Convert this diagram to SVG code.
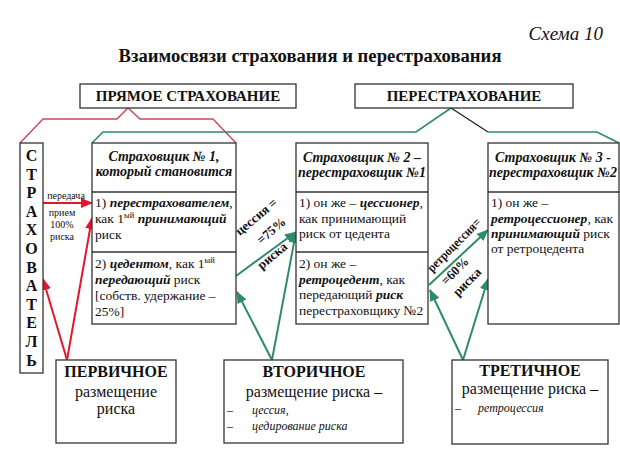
<svg xmlns="http://www.w3.org/2000/svg" width="620" height="450" viewBox="0 0 620 450" font-family="'Liberation Serif', 'DejaVu Serif', 'Times New Roman', serif">
<defs>
<style>
.box{fill:#fff;stroke:#333;stroke-width:1.3}
text{font-family:"Liberation Serif","DejaVu Serif","Times New Roman",serif;fill:#111}
.b{font-weight:bold}
.i{font-style:italic}
.bi{font-weight:bold;font-style:italic}
.c{text-anchor:middle}
.hd{font-size:14px;font-weight:bold;font-style:italic;text-anchor:middle}
.tx{font-size:13.5px}
.sup{font-size:8.5px}
.big{font-size:16px}
.sm{font-size:12px;font-style:italic}
.tiny{font-size:10px;text-anchor:middle}
.rl{font-size:13px;font-weight:bold;text-anchor:middle}
.red{stroke:#e2172d;stroke-width:2;fill:none}
.grn{stroke:#2e8a6c;stroke-width:2;fill:none}
.bred{stroke:#c8485a;stroke-width:1.4;fill:none}
.bgrn{stroke:#2e8a6c;stroke-width:1.6;fill:none}
</style>
<marker id="ar" markerUnits="userSpaceOnUse" markerWidth="12" markerHeight="10" refX="11" refY="5" orient="auto">
<path d="M0,0 L12,5 L0,10 Z" fill="#e2172d"/>
</marker>
<marker id="ag" markerUnits="userSpaceOnUse" markerWidth="12" markerHeight="10" refX="11" refY="5" orient="auto">
<path d="M0,0 L12,5 L0,10 Z" fill="#2e8a6c"/>
</marker>
</defs>
<rect width="620" height="450" fill="#fff"/>

<text x="603" y="40" class="i" font-size="19" text-anchor="end">Схема 10</text>
<text x="310" y="62" class="b c" font-size="18" textLength="383" lengthAdjust="spacingAndGlyphs">Взаимосвязи страхования и перестрахования</text>

<g id="connectors">
<polyline class="bred" points="20,143 43,119 117,119 128,108 140,119 213,119 236,143"/>
<polyline class="bgrn" points="92,143 103,132 416,132 451,108"/>
<line x1="451" y1="108" x2="488" y2="132" stroke="#222" stroke-width="1.3"/>
<polyline class="bgrn" points="488,132 597,132 619,143"/>
<line class="red" x1="43" y1="203" x2="92" y2="203" marker-end="url(#ar)"/>
<line class="red" x1="67" y1="360" x2="43" y2="279" marker-end="url(#ar)"/>
<line class="red" x1="67" y1="360" x2="92" y2="218" marker-end="url(#ar)"/>
<line class="grn" x1="236" y1="276" x2="296" y2="232" marker-end="url(#ag)"/>
<line class="grn" x1="272" y1="360" x2="237" y2="292" marker-end="url(#ag)"/>
<line class="grn" x1="272" y1="360" x2="296" y2="232" marker-end="url(#ag)"/>
<line class="grn" x1="429" y1="285" x2="488" y2="230" marker-end="url(#ag)"/>
<line class="grn" x1="463" y1="360" x2="430" y2="290" marker-end="url(#ag)"/>
<line class="grn" x1="463" y1="360" x2="488" y2="279" marker-end="url(#ag)"/>
<text class="tiny" x="66" y="199">передача</text>
<text class="tiny" x="62" y="216">прием</text>
<text class="tiny" x="62" y="228">100%</text>
<text class="tiny" x="62" y="240">риска</text>
<text class="rl" transform="translate(259,220) rotate(-40)">цессия =</text>
<text class="rl" transform="translate(274,234) rotate(-40)">=75%</text>
<text class="rl" transform="translate(275,259) rotate(-40)">риска</text>
<text class="rl" transform="translate(457,248) rotate(-45)" textLength="70" lengthAdjust="spacingAndGlyphs">ретроцессия=</text>
<text class="rl" transform="translate(458,274) rotate(-45)">=60%</text>
<text class="rl" transform="translate(470,285) rotate(-45)" font-size="12">риска</text>
</g>

<g id="direct">
<rect class="box" x="80" y="84" width="216" height="24"/>
<text class="b c" font-size="15" x="188" y="101">ПРЯМОЕ СТРАХОВАНИЕ</text>
</g>
<g id="reins">
<rect class="box" x="355" y="84" width="218" height="24"/>
<text class="b c" font-size="15" x="464" y="101">ПЕРЕСТРАХОВАНИЕ</text>
</g>

<g id="insured">
<rect class="box" x="20" y="143" width="23" height="230"/>
<text class="b c big" x="31.5" y="161">С</text>
<text class="b c big" x="31.5" y="179.6">Т</text>
<text class="b c big" x="31.5" y="198.2">Р</text>
<text class="b c big" x="31.5" y="216.8">А</text>
<text class="b c big" x="31.5" y="235.4">Х</text>
<text class="b c big" x="31.5" y="254">О</text>
<text class="b c big" x="31.5" y="272.6">В</text>
<text class="b c big" x="31.5" y="291.2">А</text>
<text class="b c big" x="31.5" y="309.8">Т</text>
<text class="b c big" x="31.5" y="328.4">Е</text>
<text class="b c big" x="31.5" y="347">Л</text>
<text class="b c big" x="31.5" y="365.6">Ь</text>
</g>

<g id="insurer1">
<rect class="box" x="92" y="143" width="144" height="181"/>
<line x1="92" y1="192" x2="236" y2="192" stroke="#333" stroke-width="1.3"/>
<line x1="92" y1="252" x2="236" y2="252" stroke="#333" stroke-width="1.3"/>
<text class="hd" x="164" y="161">Страховщик № 1,</text>
<text class="hd" x="164" y="176">который становится</text>
<text class="tx" x="95" y="207">1) <tspan class="bi">перестрахователем</tspan>,</text>
<text class="tx" x="95" y="223">как 1<tspan class="sup" dy="-5">ый</tspan><tspan dy="5"> </tspan><tspan class="bi">принимающий</tspan></text>
<text class="tx" x="95" y="239">риск</text>
<text class="tx" x="95" y="268">2) <tspan class="bi">цедентом</tspan>, как 1<tspan class="sup" dy="-5">ый</tspan></text>
<text class="tx" x="95" y="284"><tspan class="bi">передающий</tspan> риск</text>
<text class="tx" x="95" y="300">[собств. удержание –</text>
<text class="tx" x="95" y="316">25%]</text>
</g>

<g id="insurer2">
<rect class="box" x="296" y="143" width="132" height="181"/>
<line x1="296" y1="192" x2="428" y2="192" stroke="#333" stroke-width="1.3"/>
<line x1="296" y1="252" x2="428" y2="252" stroke="#333" stroke-width="1.3"/>
<text class="hd" x="362" y="162">Страховщик № 2 –</text>
<text class="hd" x="362" y="177">перестраховщик №1</text>
<text class="tx" x="299" y="207">1) он же – <tspan class="bi">цессионер</tspan>,</text>
<text class="tx" x="299" y="223">как принимающий</text>
<text class="tx" x="299" y="238">риск от цедента</text>
<text class="tx" x="299" y="268">2) он же –</text>
<text class="tx" x="299" y="284"><tspan class="bi">ретроцедент</tspan>, как</text>
<text class="tx" x="299" y="299">передающий <tspan class="bi">риск</tspan></text>
<text class="tx" x="299" y="315">перестраховщику №2</text>
</g>

<g id="insurer3">
<rect class="box" x="488" y="143" width="131" height="181"/>
<line x1="488" y1="192" x2="619" y2="192" stroke="#333" stroke-width="1.3"/>
<text class="hd" x="553" y="162">Страховщик № 3 -</text>
<text class="hd" x="553" y="177">перестраховщик №2</text>
<text class="tx" x="491" y="207">1) он же –</text>
<text class="tx" x="491" y="223"><tspan class="bi">ретроцессионер</tspan>, как</text>
<text class="tx" x="491" y="238"><tspan class="bi">принимающий</tspan>  риск</text>
<text class="tx" x="491" y="253">от ретроцедента</text>
</g>

<g id="primary">
<rect class="box" x="56" y="360" width="120" height="83"/>
<text class="b c big" x="116" y="377">ПЕРВИЧНОЕ</text>
<text class="c big" x="116" y="397">размещение</text>
<text class="c big" x="116" y="414">риска</text>
</g>

<g id="secondary">
<rect class="box" x="224" y="360" width="179" height="83"/>
<text class="b c big" x="314" y="377">ВТОРИЧНОЕ</text>
<text class="c big" x="314" y="397">размещение риска –</text>
<text font-size="12" x="227" y="414">–</text>
<text class="sm" x="252" y="414">цессия,</text>
<text font-size="12" x="227" y="430">–</text>
<text class="sm" x="252" y="430">цедирование риска</text>
</g>

<g id="tertiary">
<rect class="box" x="452" y="360" width="156" height="84"/>
<text class="b c big" x="530" y="376">ТРЕТИЧНОЕ</text>
<text class="c big" x="530" y="394">размещение риска –</text>
<text font-size="12" x="455" y="412">–</text>
<text class="sm" x="478" y="412">ретроцессия</text>
</g>
</svg>
